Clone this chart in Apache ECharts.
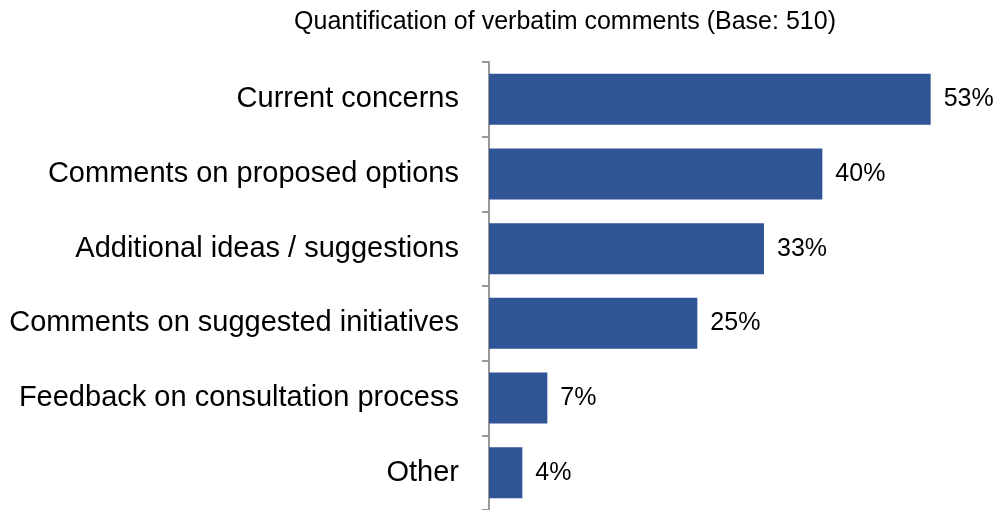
<!DOCTYPE html>
<html>
<head>
<meta charset="utf-8">
<script src="https://cdn.jsdelivr.net/npm/echarts@6/dist/echarts.min.js"></script>
<style>
html,body{margin:0;padding:0;background:#fff;}
#chart{width:996px;height:510px;}
</style>
</head>
<body>
<div id="chart"></div>
<script>
const titleText = 'Quantification of verbatim comments (Base: 510)';
const categories = [
  'Current concerns',
  'Comments on proposed options',
  'Additional ideas / suggestions',
  'Comments on suggested initiatives',
  'Feedback on consultation process',
  'Other'
];
const values = [53, 40, 33, 25, 7, 4];

const FONT = '"Liberation Sans", Arial, sans-serif';
const chart = echarts.init(document.getElementById('chart'));
chart.setOption({
  animation: false,
  title: {
    text: titleText,
    left: 560,
    top: 5,
    textAlign: 'center',
    textStyle: { fontFamily: FONT, fontSize: 25, fontWeight: 'normal', color: '#000' }
  },
  grid: { left: 489, right: 7, top: 62, bottom: 0, containLabel: false },
  xAxis: {
    type: 'value',
    min: 0,
    max: 60,
    show: false
  },
  yAxis: {
    type: 'category',
    data: categories,
    inverse: true,
    axisLine: { show: true, lineStyle: { color: '#999999', width: 2 } },
    axisTick: { show: true, length: 7, lineStyle: { color: '#999999', width: 2 } },
    axisLabel: { fontFamily: FONT, fontSize: 29, color: '#000', margin: 30 },
    splitLine: { show: false }
  },
  series: [{
    type: 'bar',
    data: values,
    barWidth: 51,
    itemStyle: { color: '#2f5597' },
    label: {
      show: true,
      position: 'right',
      distance: 13,
      formatter: '{c}%',
      fontFamily: FONT,
      fontSize: 25,
      color: '#000'
    }
  }]
});
</script>
</body>
</html>
